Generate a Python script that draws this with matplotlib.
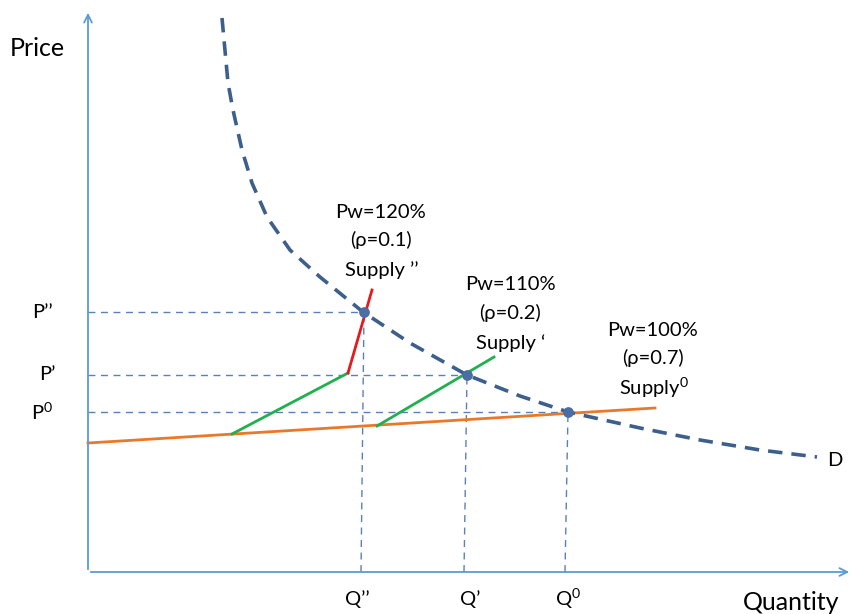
import matplotlib

matplotlib.use("Agg")
import matplotlib.pyplot as plt

plt.rcParams["font.family"] = ["Lato", "DejaVu Sans"]
plt.rcParams["mathtext.fontset"] = "custom"
plt.rcParams["mathtext.rm"] = "Lato"

# Demand curve (quantity, price in drawing units)
demand_q = [134, 140, 145, 154, 164, 179, 202, 232, 275, 322, 379, 432, 480, 552, 612, 672, 729]
demand_p = [554, 489, 462, 422, 389, 355, 322, 295, 260, 229, 197, 176, 160, 144, 132, 122, 115]

# Equilibria: Q'', Q', Q0 with P'', P', P0
eq_q = [276, 379, 480]
eq_p = [260, 197, 160]
eq_qlabels = ["Q\u2019\u2019", "Q\u2019", r"Q$^\mathrm{0}$"]
eq_plabels = ["P\u2019\u2019", "P\u2019", r"P$^\mathrm{0}$"]

# Supply segments
supply0_q = [0, 567]
supply0_p = [129, 164]
green1_q = [144, 260]
green1_p = [138, 199]
red_q = [260, 284]
red_p = [199, 282]
green2_q = [289, 406]
green2_p = [146, 215]

scenarios = [
    ("Pw=120%", "(\u03c1=0.1)", "Supply \u2019\u2019"),
    ("Pw=110%", "(\u03c1=0.2)", "Supply \u2018"),
    ("Pw=100%", "(\u03c1=0.7)", r"Supply$^\mathrm{0}$"),
]

AXIS = "#5b9bd5"
DEM = "#3d5f8c"
GUIDE = "#5a80b8"

fig = plt.figure(figsize=(8.53, 6.14), dpi=100)
ax = fig.add_axes([0, 0, 1, 1])
ax.set_xlim(-88, 765)
ax.set_ylim(-42, 572)
ax.axis("off")

# axes with arrows
ax.annotate("", xy=(0, 562), xytext=(0, 0),
            arrowprops=dict(arrowstyle="->", color=AXIS, lw=1.3, mutation_scale=14))
ax.annotate("", xy=(764, 0), xytext=(0, 0),
            arrowprops=dict(arrowstyle="->", color=AXIS, lw=1.3, mutation_scale=14))

# guide lines
for q, p in zip(eq_q, eq_p):
    ax.plot([0, q], [p, p], color=GUIDE, lw=1, dashes=(5, 4))
    ax.plot([q - 3, q], [0, p], color=GUIDE, lw=1, dashes=(5, 4))

ax.plot(supply0_q, supply0_p, color="#e8792a", lw=2)
ax.plot(green1_q, green1_p, color="#1fb050", lw=2)
ax.plot(green2_q, green2_p, color="#1fb050", lw=2)
ax.plot(red_q, red_p, color="#e8191c", lw=2)

ax.plot(demand_q, demand_p, color=DEM, lw=2.6, dashes=(4, 2.5))
ax.scatter(eq_q, eq_p, s=45, color="#4a6ea4", zorder=5)

# labels
fs = 14.5
for lab, q, p in zip(eq_plabels, [-46, -41, -46], eq_p):
    ax.text(q, p, lab, ha="center", va="center", fontsize=fs)
for lab, q in zip(eq_qlabels, [269, 382, 480]):
    ax.text(q, -27, lab, ha="center", va="center", fontsize=fs)

label_pos = [(293, 360), (422, 287), (565, 242)]
for (q, p), (a, b, c) in zip(label_pos, scenarios):
    ax.text(q, p, a, ha="center", va="center", fontsize=fs)
    ax.text(q, p - 28, b, ha="center", va="center", fontsize=fs)
    ax.text(q + 1, p - 58, c, ha="center", va="center", fontsize=fs)

ax.text(747, 111, "D", ha="center", va="center", fontsize=fs)
ax.text(-51, 524, "Price", ha="center", va="center", fontsize=18)
ax.text(703, -30, "Quantity", ha="center", va="center", fontsize=18)

fig.savefig("out.png", dpi=100)
